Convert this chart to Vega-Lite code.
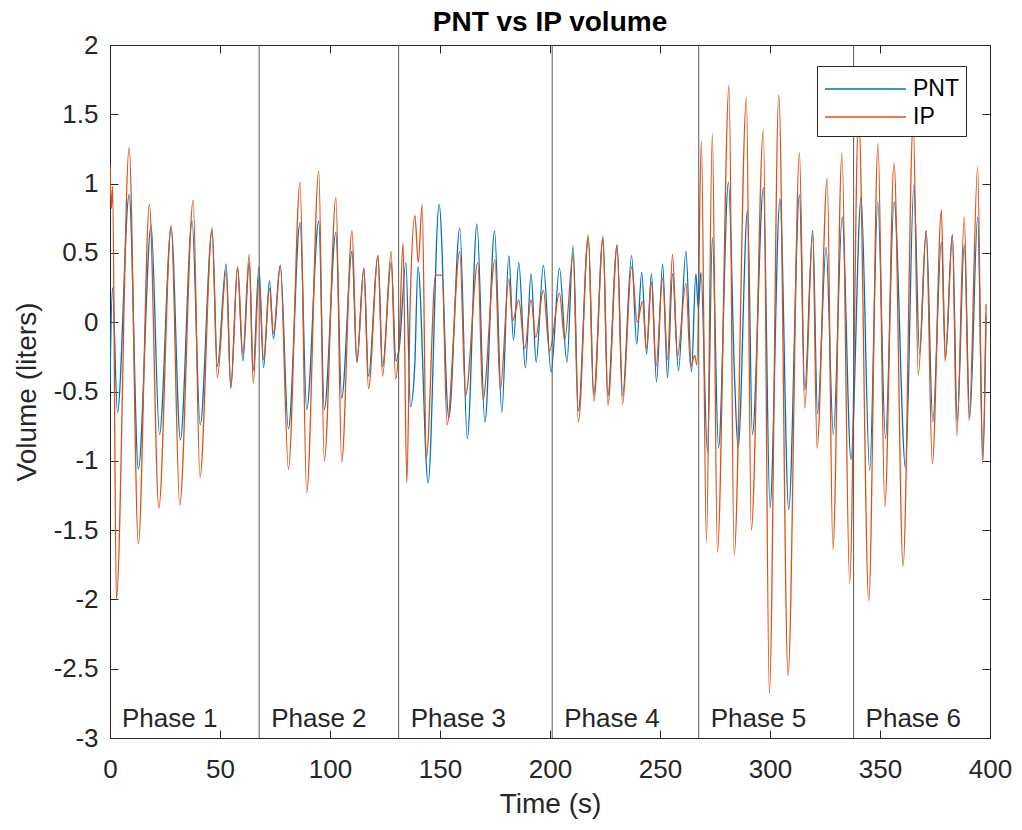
{
  "$schema": "https://vega.github.io/schema/vega-lite/v6.json",
  "width": 880,
  "height": 693,
  "autosize": "none",
  "padding": {"left": 110, "top": 45, "right": 32, "bottom": 92},
  "background": "white",
  "config": {
    "font": "Liberation Sans",
    "view": {"stroke": "#262626", "strokeWidth": 1},
    "axis": {
      "grid": false,
      "domainColor": "#262626",
      "tickColor": "#262626",
      "labelColor": "#262626",
      "titleColor": "#262626",
      "labelFont": "Liberation Sans",
      "titleFont": "Liberation Sans",
      "labelFontSize": 26,
      "titleFontSize": 28,
      "titleFontWeight": "normal",
      "tickSize": -8,
      "domainWidth": 1,
      "tickWidth": 1
    }
  },
  "title": {
    "text": "PNT vs IP volume",
    "fontSize": 28,
    "fontWeight": "bold",
    "color": "#000000",
    "font": "Liberation Sans",
    "anchor": "middle",
    "offset": -5
  },
  "resolve": {"axis": {"x": "independent", "y": "independent"}},
  "datasets": {
    "series": [
      {"signal": "PNT", "t": 0, "v": -0.44},
      {"signal": "PNT", "t": 1.1, "v": 0.25},
      {"signal": "PNT", "t": 3.4, "v": -0.65},
      {"signal": "PNT", "t": 8.7, "v": 0.92},
      {"signal": "PNT", "t": 12.9, "v": -1.06},
      {"signal": "PNT", "t": 18.7, "v": 0.7},
      {"signal": "PNT", "t": 22.5, "v": -0.81},
      {"signal": "PNT", "t": 27.8, "v": 0.68},
      {"signal": "PNT", "t": 32.0, "v": -0.85},
      {"signal": "PNT", "t": 37.3, "v": 0.73},
      {"signal": "PNT", "t": 41.0, "v": -0.74},
      {"signal": "PNT", "t": 46.4, "v": 0.66},
      {"signal": "PNT", "t": 48.8, "v": -0.32},
      {"signal": "PNT", "t": 52.8, "v": 0.42},
      {"signal": "PNT", "t": 54.9, "v": -0.47},
      {"signal": "PNT", "t": 58.0, "v": 0.39},
      {"signal": "PNT", "t": 60.4, "v": -0.28},
      {"signal": "PNT", "t": 63.3, "v": 0.43},
      {"signal": "PNT", "t": 65.1, "v": -0.35},
      {"signal": "PNT", "t": 67.7, "v": 0.4},
      {"signal": "PNT", "t": 69.8, "v": -0.33},
      {"signal": "PNT", "t": 72.5, "v": 0.3},
      {"signal": "PNT", "t": 74.3, "v": -0.12},
      {"signal": "PNT", "t": 77.4, "v": 0.41},
      {"signal": "PNT", "t": 81.1, "v": -0.77},
      {"signal": "PNT", "t": 86.4, "v": 0.72},
      {"signal": "PNT", "t": 89.4, "v": -0.63},
      {"signal": "PNT", "t": 94.9, "v": 0.73},
      {"signal": "PNT", "t": 97.4, "v": -0.63},
      {"signal": "PNT", "t": 102.7, "v": 0.65},
      {"signal": "PNT", "t": 105.3, "v": -0.55},
      {"signal": "PNT", "t": 110.0, "v": 0.51},
      {"signal": "PNT", "t": 112.2, "v": -0.29},
      {"signal": "PNT", "t": 115.4, "v": 0.39},
      {"signal": "PNT", "t": 117.5, "v": -0.39},
      {"signal": "PNT", "t": 121.8, "v": 0.48},
      {"signal": "PNT", "t": 123.9, "v": -0.32},
      {"signal": "PNT", "t": 127.8, "v": 0.43},
      {"signal": "PNT", "t": 130.0, "v": -0.28},
      {"signal": "PNT", "t": 131.5, "v": -0.18},
      {"signal": "PNT", "t": 134.5, "v": 0.43},
      {"signal": "PNT", "t": 136.6, "v": -0.61},
      {"signal": "PNT", "t": 138.5, "v": -0.32},
      {"signal": "PNT", "t": 140.0, "v": 0.4},
      {"signal": "PNT", "t": 144.6, "v": -1.16},
      {"signal": "PNT", "t": 149.6, "v": 0.85},
      {"signal": "PNT", "t": 154.0, "v": -0.69},
      {"signal": "PNT", "t": 159.0, "v": 0.68},
      {"signal": "PNT", "t": 162.4, "v": -0.84},
      {"signal": "PNT", "t": 166.8, "v": 0.71},
      {"signal": "PNT", "t": 170.4, "v": -0.72},
      {"signal": "PNT", "t": 174.8, "v": 0.66},
      {"signal": "PNT", "t": 178.1, "v": -0.65},
      {"signal": "PNT", "t": 181.3, "v": 0.48},
      {"signal": "PNT", "t": 183.4, "v": -0.13},
      {"signal": "PNT", "t": 185.8, "v": 0.43},
      {"signal": "PNT", "t": 188.8, "v": -0.33},
      {"signal": "PNT", "t": 191.4, "v": 0.35},
      {"signal": "PNT", "t": 193.7, "v": -0.29},
      {"signal": "PNT", "t": 197.0, "v": 0.41},
      {"signal": "PNT", "t": 200.5, "v": -0.36},
      {"signal": "PNT", "t": 204.3, "v": 0.39},
      {"signal": "PNT", "t": 207.7, "v": -0.29},
      {"signal": "PNT", "t": 210.5, "v": 0.55},
      {"signal": "PNT", "t": 212.9, "v": -0.64},
      {"signal": "PNT", "t": 217.4, "v": 0.61},
      {"signal": "PNT", "t": 219.9, "v": -0.52},
      {"signal": "PNT", "t": 224.1, "v": 0.6},
      {"signal": "PNT", "t": 226.3, "v": -0.53},
      {"signal": "PNT", "t": 230.5, "v": 0.55},
      {"signal": "PNT", "t": 233.0, "v": -0.53},
      {"signal": "PNT", "t": 237.1, "v": 0.48},
      {"signal": "PNT", "t": 239.4, "v": -0.16},
      {"signal": "PNT", "t": 241.7, "v": 0.36},
      {"signal": "PNT", "t": 243.9, "v": -0.23},
      {"signal": "PNT", "t": 246.1, "v": 0.35},
      {"signal": "PNT", "t": 248.4, "v": -0.43},
      {"signal": "PNT", "t": 251.2, "v": 0.42},
      {"signal": "PNT", "t": 253.4, "v": -0.4},
      {"signal": "PNT", "t": 255.7, "v": 0.35},
      {"signal": "PNT", "t": 258.4, "v": -0.35},
      {"signal": "PNT", "t": 261.8, "v": 0.51},
      {"signal": "PNT", "t": 264.3, "v": -0.36},
      {"signal": "PNT", "t": 266.3, "v": 0.35},
      {"signal": "PNT", "t": 267.4, "v": 0.1},
      {"signal": "PNT", "t": 268.6, "v": 0.36},
      {"signal": "PNT", "t": 271.6, "v": -0.94},
      {"signal": "PNT", "t": 273.8, "v": 0.61},
      {"signal": "PNT", "t": 276.6, "v": -0.91},
      {"signal": "PNT", "t": 281.1, "v": 1.01},
      {"signal": "PNT", "t": 284.0, "v": -0.45},
      {"signal": "PNT", "t": 285.5, "v": -0.91},
      {"signal": "PNT", "t": 289.8, "v": 0.81},
      {"signal": "PNT", "t": 292.0, "v": -0.81},
      {"signal": "PNT", "t": 297.0, "v": 0.97},
      {"signal": "PNT", "t": 300.0, "v": -1.34},
      {"signal": "PNT", "t": 304.5, "v": 0.89},
      {"signal": "PNT", "t": 308.5, "v": -1.35},
      {"signal": "PNT", "t": 313.4, "v": 0.92},
      {"signal": "PNT", "t": 315.8, "v": -0.49},
      {"signal": "PNT", "t": 319.4, "v": 0.66},
      {"signal": "PNT", "t": 321.6, "v": -0.66},
      {"signal": "PNT", "t": 325.5, "v": 0.54},
      {"signal": "PNT", "t": 328.8, "v": -0.81},
      {"signal": "PNT", "t": 332.8, "v": 0.76},
      {"signal": "PNT", "t": 336.8, "v": -0.99},
      {"signal": "PNT", "t": 341.4, "v": 0.9},
      {"signal": "PNT", "t": 345.3, "v": -1.07},
      {"signal": "PNT", "t": 349.0, "v": 0.87},
      {"signal": "PNT", "t": 352.5, "v": -0.84},
      {"signal": "PNT", "t": 356.4, "v": 0.87},
      {"signal": "PNT", "t": 361.6, "v": -1.05},
      {"signal": "PNT", "t": 365.4, "v": 0.99},
      {"signal": "PNT", "t": 368.0, "v": -0.23},
      {"signal": "PNT", "t": 371.0, "v": 0.66},
      {"signal": "PNT", "t": 374.0, "v": -0.72},
      {"signal": "PNT", "t": 377.9, "v": 0.58},
      {"signal": "PNT", "t": 379.8, "v": -0.25},
      {"signal": "PNT", "t": 382.9, "v": 0.63},
      {"signal": "PNT", "t": 385.1, "v": -0.72},
      {"signal": "PNT", "t": 388.3, "v": 0.56},
      {"signal": "PNT", "t": 390.8, "v": -0.69},
      {"signal": "PNT", "t": 394.4, "v": 0.76},
      {"signal": "PNT", "t": 396.8, "v": -0.99},
      {"signal": "PNT", "t": 398.2, "v": 0.05},
      {"signal": "IP", "t": 0, "v": 1.13},
      {"signal": "IP", "t": 0.6, "v": 0.82},
      {"signal": "IP", "t": 1.2, "v": 0.98},
      {"signal": "IP", "t": 2.9, "v": -2.0},
      {"signal": "IP", "t": 8.7, "v": 1.26},
      {"signal": "IP", "t": 12.9, "v": -1.6},
      {"signal": "IP", "t": 17.9, "v": 0.85},
      {"signal": "IP", "t": 22.2, "v": -1.34},
      {"signal": "IP", "t": 27.8, "v": 0.7},
      {"signal": "IP", "t": 31.7, "v": -1.32},
      {"signal": "IP", "t": 37.8, "v": 0.88},
      {"signal": "IP", "t": 40.9, "v": -1.12},
      {"signal": "IP", "t": 46.4, "v": 0.68},
      {"signal": "IP", "t": 48.8, "v": -0.4},
      {"signal": "IP", "t": 52.8, "v": 0.37},
      {"signal": "IP", "t": 54.9, "v": -0.48},
      {"signal": "IP", "t": 58.0, "v": 0.4},
      {"signal": "IP", "t": 60.4, "v": -0.23},
      {"signal": "IP", "t": 63.3, "v": 0.49},
      {"signal": "IP", "t": 65.1, "v": -0.44},
      {"signal": "IP", "t": 67.7, "v": 0.32},
      {"signal": "IP", "t": 69.8, "v": -0.27},
      {"signal": "IP", "t": 72.5, "v": 0.24},
      {"signal": "IP", "t": 74.3, "v": -0.08},
      {"signal": "IP", "t": 77.4, "v": 0.41},
      {"signal": "IP", "t": 81.1, "v": -1.06},
      {"signal": "IP", "t": 86.4, "v": 1.01},
      {"signal": "IP", "t": 89.4, "v": -1.23},
      {"signal": "IP", "t": 94.9, "v": 1.09},
      {"signal": "IP", "t": 97.4, "v": -1.0},
      {"signal": "IP", "t": 102.7, "v": 0.9},
      {"signal": "IP", "t": 105.3, "v": -1.01},
      {"signal": "IP", "t": 110.0, "v": 0.66},
      {"signal": "IP", "t": 112.2, "v": -0.29},
      {"signal": "IP", "t": 115.4, "v": 0.39},
      {"signal": "IP", "t": 117.5, "v": -0.48},
      {"signal": "IP", "t": 121.8, "v": 0.48},
      {"signal": "IP", "t": 123.9, "v": -0.39},
      {"signal": "IP", "t": 127.8, "v": 0.51},
      {"signal": "IP", "t": 129.8, "v": -0.41},
      {"signal": "IP", "t": 131.4, "v": -0.16},
      {"signal": "IP", "t": 133.2, "v": 0.57},
      {"signal": "IP", "t": 134.9, "v": -1.16},
      {"signal": "IP", "t": 136.5, "v": 0.17},
      {"signal": "IP", "t": 138.6, "v": 0.77},
      {"signal": "IP", "t": 140.1, "v": 0.43},
      {"signal": "IP", "t": 141.9, "v": 0.85},
      {"signal": "IP", "t": 143.8, "v": -0.98},
      {"signal": "IP", "t": 148.0, "v": 0.34},
      {"signal": "IP", "t": 151.0, "v": 0.34},
      {"signal": "IP", "t": 153.2, "v": -0.74},
      {"signal": "IP", "t": 159.0, "v": 0.51},
      {"signal": "IP", "t": 161.6, "v": -0.53},
      {"signal": "IP", "t": 167.2, "v": 0.43},
      {"signal": "IP", "t": 169.5, "v": -0.56},
      {"signal": "IP", "t": 175.0, "v": 0.45},
      {"signal": "IP", "t": 177.4, "v": -0.49},
      {"signal": "IP", "t": 181.3, "v": 0.31},
      {"signal": "IP", "t": 183.0, "v": 0.01},
      {"signal": "IP", "t": 185.8, "v": 0.16},
      {"signal": "IP", "t": 188.5, "v": -0.19},
      {"signal": "IP", "t": 191.4, "v": 0.16},
      {"signal": "IP", "t": 193.5, "v": -0.11},
      {"signal": "IP", "t": 197.0, "v": 0.23},
      {"signal": "IP", "t": 199.8, "v": -0.21},
      {"signal": "IP", "t": 204.3, "v": 0.21},
      {"signal": "IP", "t": 206.7, "v": -0.13},
      {"signal": "IP", "t": 210.5, "v": 0.49},
      {"signal": "IP", "t": 212.9, "v": -0.72},
      {"signal": "IP", "t": 217.4, "v": 0.63},
      {"signal": "IP", "t": 219.9, "v": -0.57},
      {"signal": "IP", "t": 224.1, "v": 0.62},
      {"signal": "IP", "t": 226.3, "v": -0.6},
      {"signal": "IP", "t": 230.5, "v": 0.56},
      {"signal": "IP", "t": 233.0, "v": -0.59},
      {"signal": "IP", "t": 237.1, "v": 0.4},
      {"signal": "IP", "t": 239.7, "v": 0.0},
      {"signal": "IP", "t": 242.0, "v": 0.15},
      {"signal": "IP", "t": 243.9, "v": -0.19},
      {"signal": "IP", "t": 246.1, "v": 0.29},
      {"signal": "IP", "t": 248.2, "v": -0.32},
      {"signal": "IP", "t": 251.2, "v": 0.32},
      {"signal": "IP", "t": 253.4, "v": -0.27},
      {"signal": "IP", "t": 255.7, "v": 0.49},
      {"signal": "IP", "t": 257.9, "v": -0.25},
      {"signal": "IP", "t": 261.8, "v": 0.28},
      {"signal": "IP", "t": 263.9, "v": -0.32},
      {"signal": "IP", "t": 265.8, "v": -0.24},
      {"signal": "IP", "t": 266.8, "v": -0.31},
      {"signal": "IP", "t": 268.8, "v": 1.31},
      {"signal": "IP", "t": 271.1, "v": -1.59},
      {"signal": "IP", "t": 273.8, "v": 1.36},
      {"signal": "IP", "t": 276.1, "v": -1.66},
      {"signal": "IP", "t": 281.4, "v": 1.71},
      {"signal": "IP", "t": 283.7, "v": -1.68},
      {"signal": "IP", "t": 289.3, "v": 1.62},
      {"signal": "IP", "t": 291.5, "v": -1.5},
      {"signal": "IP", "t": 297.0, "v": 1.39},
      {"signal": "IP", "t": 299.7, "v": -2.68},
      {"signal": "IP", "t": 304.0, "v": 1.64},
      {"signal": "IP", "t": 308.2, "v": -2.55},
      {"signal": "IP", "t": 313.4, "v": 1.22},
      {"signal": "IP", "t": 315.8, "v": -0.62},
      {"signal": "IP", "t": 319.4, "v": 0.64},
      {"signal": "IP", "t": 321.4, "v": -0.91},
      {"signal": "IP", "t": 326.0, "v": 1.04},
      {"signal": "IP", "t": 328.6, "v": -1.64},
      {"signal": "IP", "t": 332.7, "v": 1.22},
      {"signal": "IP", "t": 336.2, "v": -1.88},
      {"signal": "IP", "t": 340.3, "v": 1.5},
      {"signal": "IP", "t": 344.9, "v": -2.01},
      {"signal": "IP", "t": 349.1, "v": 1.29},
      {"signal": "IP", "t": 352.2, "v": -1.33},
      {"signal": "IP", "t": 356.4, "v": 1.15},
      {"signal": "IP", "t": 360.5, "v": -1.76},
      {"signal": "IP", "t": 365.1, "v": 1.45},
      {"signal": "IP", "t": 367.4, "v": -0.38},
      {"signal": "IP", "t": 371.0, "v": 0.66},
      {"signal": "IP", "t": 373.8, "v": -1.02},
      {"signal": "IP", "t": 377.9, "v": 0.81},
      {"signal": "IP", "t": 379.6, "v": -0.28},
      {"signal": "IP", "t": 382.9, "v": 0.63},
      {"signal": "IP", "t": 384.9, "v": -0.82},
      {"signal": "IP", "t": 388.3, "v": 0.76},
      {"signal": "IP", "t": 390.5, "v": -0.71},
      {"signal": "IP", "t": 394.4, "v": 1.12},
      {"signal": "IP", "t": 396.6, "v": -1.02},
      {"signal": "IP", "t": 398.2, "v": 0.13}
    ],
    "phases": [
      {"phase": "Phase 1", "start": 0},
      {"phase": "Phase 2", "start": 67.8},
      {"phase": "Phase 3", "start": 131.2},
      {"phase": "Phase 4", "start": 201.0},
      {"phase": "Phase 5", "start": 267.6},
      {"phase": "Phase 6", "start": 338.0}
    ]
  },
  "layer": [
    {
      "data": {"name": "series"},
      "mark": {"type": "line", "interpolate": "monotone", "strokeWidth": 1.3, "clip": true},
      "encoding": {
        "x": {
          "field": "t", "type": "quantitative",
          "scale": {"domain": [0, 400], "nice": false, "zero": false},
          "axis": {"orient": "bottom", "title": "Time (s)", "values": [0, 50, 100, 150, 200, 250, 300, 350, 400], "labelPadding": 26, "titlePadding": 8, "labelFlush": false}
        },
        "y": {
          "field": "v", "type": "quantitative",
          "scale": {"domain": [-3, 2], "nice": false, "zero": false},
          "axis": {"orient": "left", "title": "Volume (liters)", "values": [-3, -2.5, -2, -1.5, -1, -0.5, 0, 0.5, 1, 1.5, 2], "labelExpr": "'' + datum.value", "labelPadding": 20, "titlePadding": 12, "labelFlush": false}
        },
        "color": {
          "field": "signal", "type": "nominal",
          "scale": {"domain": ["PNT", "IP"], "range": ["#0072BD", "#D95319"]},
          "legend": {
            "orient": "none", "legendX": 707, "legendY": 21, "title": null,
            "symbolType": "M-1,0L4.4,0", "symbolSize": 900, "symbolStrokeWidth": 1.3,
            "labelFontSize": 23, "labelColor": "#000000", "labelFont": "Liberation Sans",
            "strokeColor": "#262626", "fillColor": "white", "padding": 7,
            "labelOffset": 57, "rowPadding": 0
          }
        },
        "order": {"field": "t", "type": "quantitative"}
      }
    },
    {
      "data": {"name": "phases"},
      "transform": [{"filter": "datum.start > 0"}],
      "mark": {"type": "rule", "color": "#5a5a5a", "strokeWidth": 1},
      "encoding": {
        "x": {
          "field": "start", "type": "quantitative",
          "axis": {"orient": "top", "title": null, "labels": false, "values": [0, 50, 100, 150, 200, 250, 300, 350, 400], "domain": false}
        }
      }
    },
    {
      "data": {"name": "phases"},
      "mark": {"type": "text", "align": "left", "baseline": "alphabetic", "dx": 12, "fontSize": 26, "font": "Liberation Sans", "color": "#262626"},
      "encoding": {
        "x": {"field": "start", "type": "quantitative", "axis": null},
        "y": {
          "datum": -2.92, "type": "quantitative",
          "axis": {"orient": "right", "title": null, "labels": false, "values": [-3, -2.5, -2, -1.5, -1, -0.5, 0, 0.5, 1, 1.5, 2], "domain": false}
        },
        "text": {"field": "phase"}
      }
    }
  ]
}
